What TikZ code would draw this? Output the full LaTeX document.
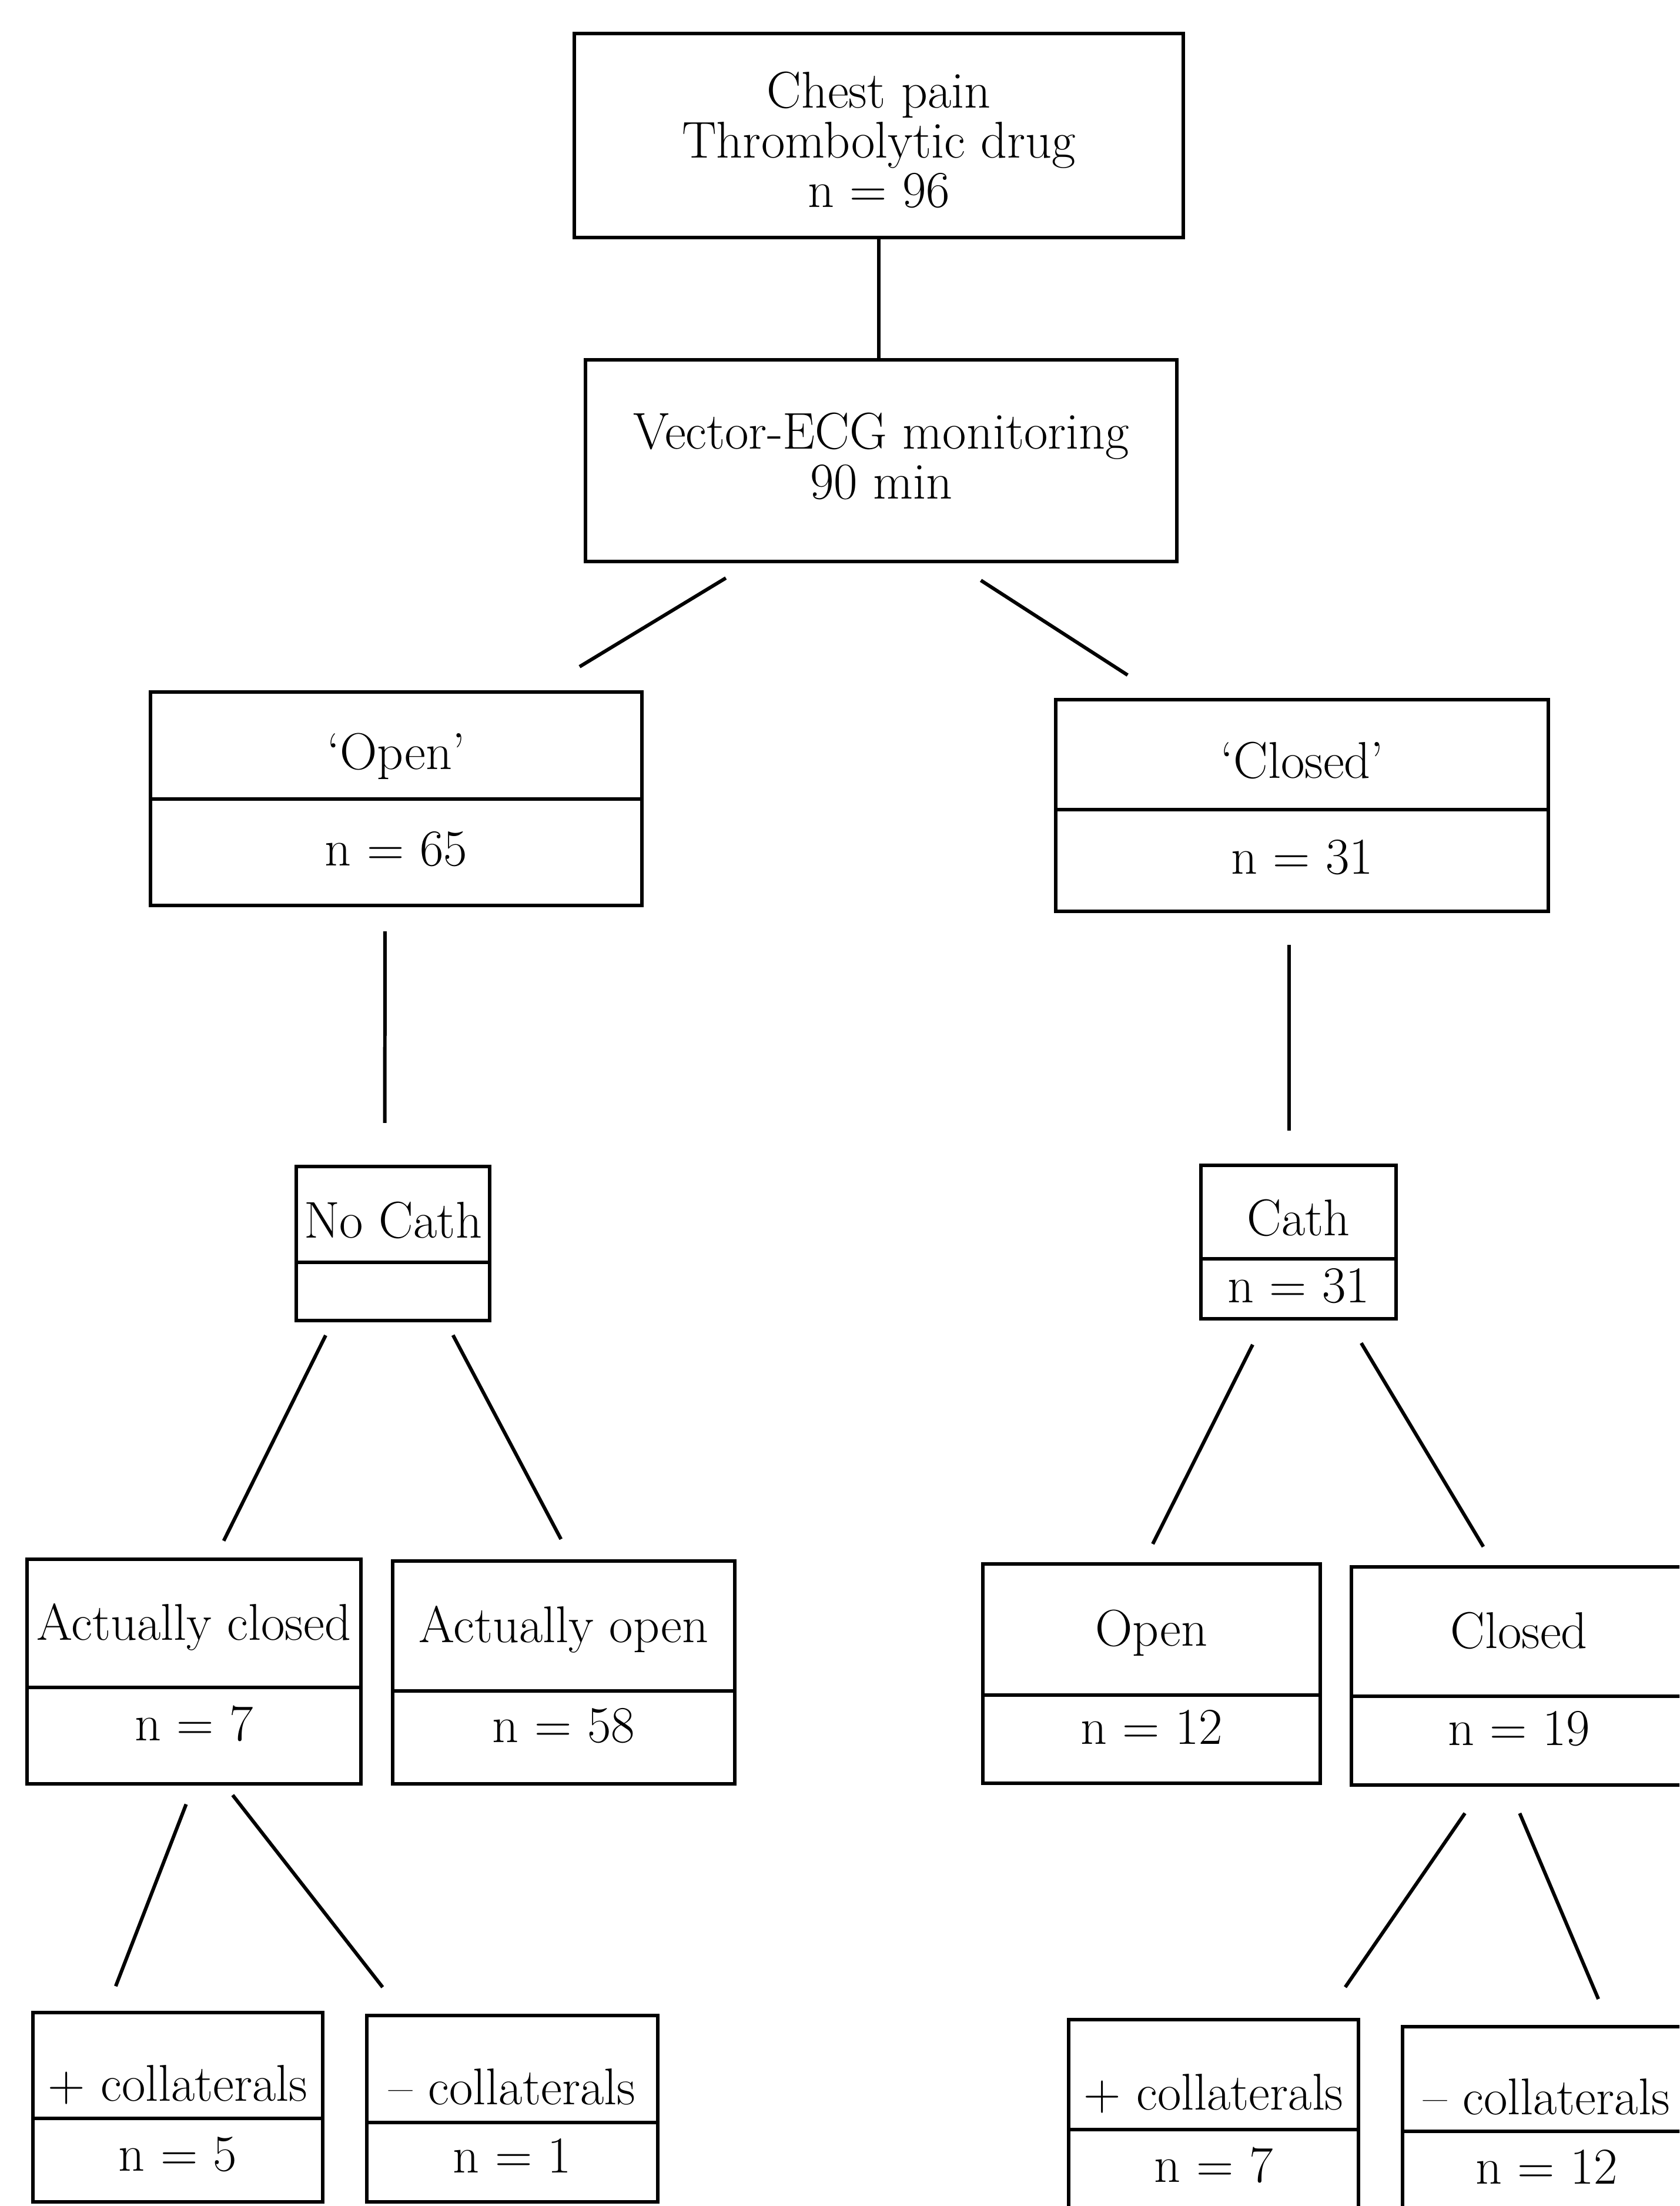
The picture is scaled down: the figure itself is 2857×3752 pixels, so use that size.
\documentclass[tikz,border=0pt]{standalone}
\usepackage{amsmath}
\usetikzlibrary{positioning, calc}

\begin{document}
\begin{tikzpicture}[
            x = 0.01cm, % one unit = one pixel of the scan
            y = -0.01cm,
            line width = 1.7pt, % line style
            font = \fontsize{25}{23.9}\selectfont
        ]

        \tikzstyle{box}=[
            draw = black,
            rectangle,
            inner sep = 0pt,
            outer sep = 0pt,
            align = center
        ]
        \tikzstyle{head}=[box, text height = 0.8cm, text depth = 0pt]
        \tikzstyle{sub}=[box, text height = 0.56cm, text depth = 0pt]
        \tikzstyle{coll}=[box, text height = 1.2cm, text depth = 0pt]
        \tikzstyle{count}=[box, text height = 0.46cm, text depth = 0pt]
        \tikzstyle{subcount}=[box, text height = 0.16cm, text depth = 0pt]
        \tikzstyle{collcount}=[box, text height = 0.36cm, text depth = 0pt, minimum height = 1.42cm]
        \tikzstyle{link}=[draw = black, line width = 1.7pt]

        \useasboundingbox (0,0) rectangle (2857,3752);
        \clip (0,0) rectangle (2857,3752);
        \fill[white] (0,0) rectangle (2857,3752);

        \node[box, minimum width = 10.36cm, minimum height = 3.47cm, text height = 2.43cm, text depth = 0pt] (chest) at (1495,230.5) {Chest pain\\Thrombolytic drug\\n = 96};
        \node[box, minimum width = 10.06cm, minimum height = 3.43cm, text height = 1.29cm, text depth = 0pt] (vec) at (1499,783.5) {Vector-ECG monitoring\\90 min};

        \node[head, minimum width = 8.36cm, minimum height = 1.82cm] (open) at (674,1268) {‘Open’};
        \node[count, minimum width = 8.36cm, minimum height = 1.81cm, below = 0pt of open] (openN) {n = 65};
        \node[head, minimum width = 8.38cm, minimum height = 1.87cm] (closed) at (2215,1283.5) {‘Closed’};
        \node[count, minimum width = 8.38cm, minimum height = 1.73cm, below = 0pt of closed] (closedN) {n = 31};

        \node[head, minimum width = 3.29cm, minimum height = 1.63cm] (nocath) at (668.5,2065.5) {No Cath};
        \node[count, minimum width = 3.29cm, minimum height = 0.99cm, below = 0pt of nocath] (nocathN) {};
        \node[head, minimum width = 3.32cm, minimum height = 1.59cm] (cath) at (2209,2061.5) {Cath};
        \node[count, minimum width = 3.32cm, minimum height = 1.02cm, below = 0pt of cath] (cathN) {n = 31};

        \node[sub, minimum width = 5.68cm, minimum height = 2.18cm] (actclosed) at (330,2761) {Actually closed};
        \node[subcount, minimum width = 5.68cm, minimum height = 1.64cm, below = 0pt of actclosed] (actclosedN) {n = 7};
        \node[sub, minimum width = 5.82cm, minimum height = 2.21cm] (actopen) at (959,2765.5) {Actually open};
        \node[subcount, minimum width = 5.82cm, minimum height = 1.58cm, below = 0pt of actopen] (actopenN) {n = 58};
        \node[sub, minimum width = 5.74cm, minimum height = 2.23cm] (open2) at (1959,2771.5) {Open};
        \node[subcount, minimum width = 5.74cm, minimum height = 1.50cm, below = 0pt of open2] (open2N) {n = 12};
        \node[sub, minimum width = 5.70cm, minimum height = 2.20cm] (closed2) at (2584,2775) {Closed};
        \node[subcount, minimum width = 5.70cm, minimum height = 1.51cm, below = 0pt of closed2] (closed2N) {n = 19};

        \node[coll, minimum width = 4.93cm, minimum height = 1.80cm] (pcoll) at (302.5,3513) {+ collaterals};
        \node[collcount, minimum width = 4.93cm, below = 0pt of pcoll] (pcollN) {n = 5};
        \node[coll, minimum width = 4.95cm, minimum height = 1.82cm] (mcoll) at (871.5,3519) {– collaterals};
        \node[collcount, minimum width = 4.95cm, minimum height = 1.35cm, below = 0pt of mcoll] (mcollN) {n = 1};
        \node[coll, minimum width = 4.93cm, minimum height = 1.87cm] (pcoll2) at (2064.5,3528.5) {+ collaterals};
        \node[collcount, minimum width = 4.93cm, below = 0pt of pcoll2] (pcoll2N) {n = 7};
        \node[coll, minimum width = 4.90cm, minimum height = 1.78cm] (mcoll2) at (2631,3536) {– collaterals};
        \node[collcount, minimum width = 4.90cm, below = 0pt of mcoll2] (mcoll2N) {n = 12};

        % branches
        \draw[link] (chest.south) -- (chest.south |- vec.north);
        \draw[link, shorten <= 0.54cm, shorten >= 0.83cm] ($(vec.south)+(-218,0)$) -- ($(open.north)+(241,0)$);
        \draw[link, shorten <= 0.59cm, shorten >= 0.77cm] ($(vec.south)+(120,0)$) -- ($(closed.north)+(-232,0)$);
        \draw[link, shorten <= 0.44cm, shorten >= 0.74cm] ($(openN.south)+(-19,0)$) -- ($(nocath.north)+(-14,0)$);
        \draw[link, shorten <= 0.57cm, shorten >= 0.59cm] ($(closedN.south)+(-22,0)$) -- ($(cath.north)+(-16,0)$);
        \draw[link, shorten <= 0.28cm, shorten >= 0.35cm] ($(nocathN.south)+(-102,0)$) -- ($(actclosed.north)+(35,0)$);
        \draw[link, shorten <= 0.28cm, shorten >= 0.42cm] ($(nocathN.south)+(89,0)$) -- ($(actopen.north)+(15,0)$);
        \draw[link, shorten <= 0.49cm, shorten >= 0.38cm] ($(cathN.south)+(-56,0)$) -- ($(open2.north)+(-15,0)$);
        \draw[link, shorten <= 0.48cm, shorten >= 0.40cm] ($(cathN.south)+(82,0)$) -- ($(closed2.north)+(-40,0)$);
        \draw[link, shorten <= 0.37cm, shorten >= 0.48cm] (actclosedN.south) -- ($(pcoll.north)+(-123,0)$);
        \draw[link, shorten <= 0.24cm, shorten >= 0.61cm] ($(actclosedN.south)+(51,0)$) -- ($(mcoll.north)+(-183,0)$);
        \draw[link, shorten <= 0.58cm, shorten >= 0.67cm] ($(closed2N.south)+(-59,0)$) -- ($(pcoll2.north)+(186,0)$);
        \draw[link, shorten <= 0.52cm, shorten >= 0.51cm] ($(closed2N.south)+(-19,0)$) -- ($(mcoll2.north)+(108,0)$);
    \end{tikzpicture}
\end{document}
